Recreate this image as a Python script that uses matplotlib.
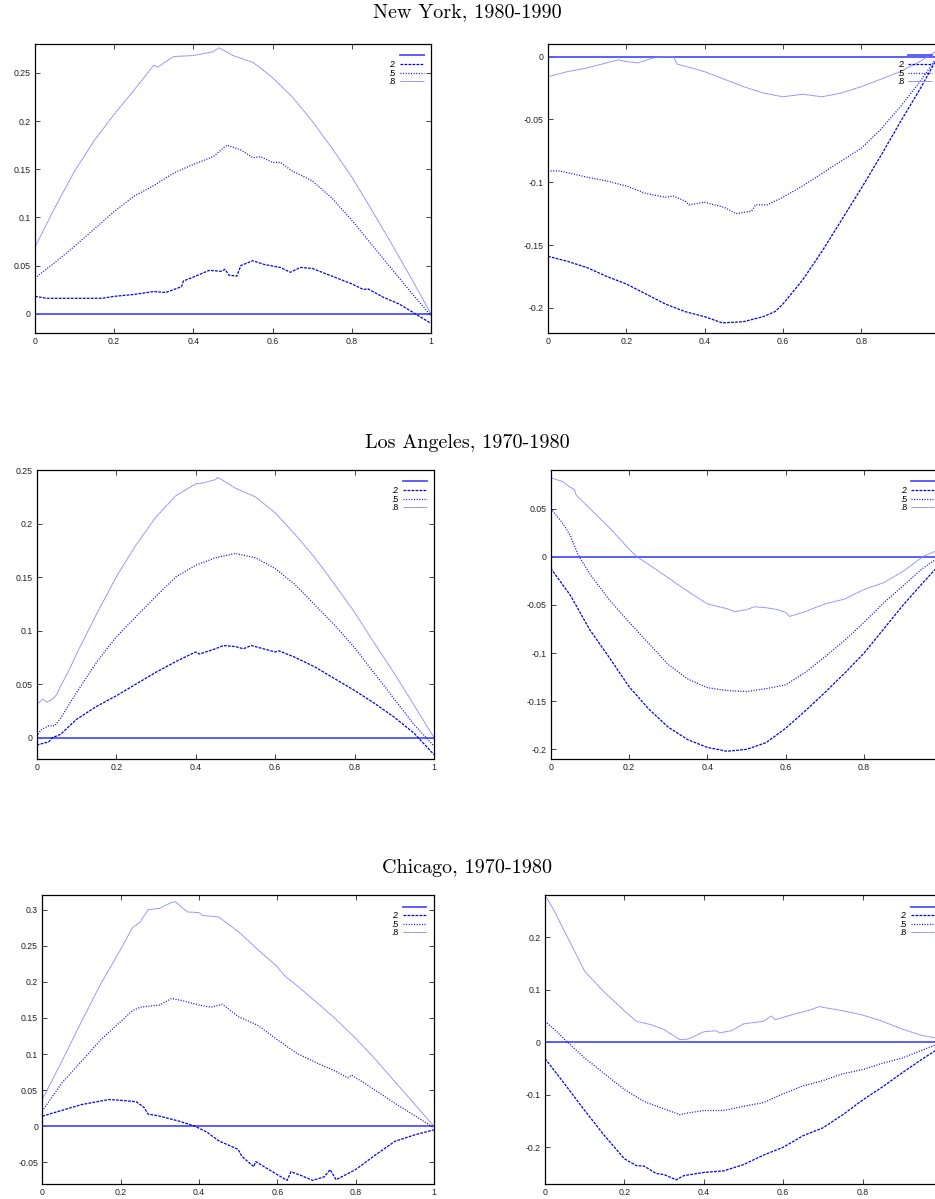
import matplotlib
matplotlib.use("Agg")
import matplotlib.pyplot as plt

# ---------------------------------------------------------------------------
# New York, 1980-1990
# ---------------------------------------------------------------------------
ny_l_x8 = [0, 0.05, 0.1, 0.15, 0.2, 0.25, 0.3, 0.31, 0.35, 0.4, 0.45, 0.465, 0.5,
           0.55, 0.57, 0.6, 0.65, 0.7, 0.75, 0.8, 0.85, 0.9, 0.95, 1.0]
ny_l_y8 = [0.069, 0.110, 0.148, 0.180, 0.207, 0.232, 0.258, 0.256, 0.267, 0.268, 0.272, 0.276, 0.268,
           0.261, 0.255, 0.245, 0.225, 0.200, 0.172, 0.142, 0.108, 0.073, 0.037, 0.0]
ny_l_x5 = [0, 0.05, 0.1, 0.15, 0.2, 0.25, 0.3, 0.35, 0.4, 0.45, 0.485, 0.52, 0.55, 0.57,
           0.6, 0.62, 0.65, 0.7, 0.75, 0.8, 0.85, 0.9, 0.95, 1.0]
ny_l_y5 = [0.037, 0.053, 0.070, 0.088, 0.106, 0.122, 0.133, 0.146, 0.155, 0.163, 0.175, 0.170, 0.162, 0.163,
           0.157, 0.157, 0.148, 0.138, 0.120, 0.097, 0.072, 0.047, 0.022, -0.002]
ny_l_x2 = [0, 0.03, 0.1, 0.17, 0.2, 0.25, 0.3, 0.33, 0.37, 0.375, 0.4, 0.44, 0.47, 0.48, 0.49,
           0.51, 0.52, 0.55, 0.58, 0.62, 0.645, 0.67, 0.7, 0.75, 0.8, 0.83, 0.84, 0.88, 0.92, 0.96, 1.0]
ny_l_y2 = [0.018, 0.016, 0.016, 0.016, 0.018, 0.020, 0.023, 0.022, 0.028, 0.034, 0.038, 0.045, 0.044, 0.046, 0.040,
           0.039, 0.050, 0.055, 0.051, 0.048, 0.043, 0.048, 0.047, 0.039, 0.031, 0.025, 0.026, 0.017, 0.010, 0.0, -0.010]

ny_r_x8 = [0, 0.05, 0.1, 0.15, 0.18, 0.2, 0.23, 0.27, 0.3, 0.32, 0.33, 0.4, 0.45, 0.5, 0.55,
           0.6, 0.65, 0.7, 0.75, 0.8, 0.85, 0.9, 0.95, 0.97, 1.0]
ny_r_y8 = [-0.016, -0.012, -0.009, -0.005, -0.0026, -0.004, -0.005, -0.001, 0.0, 0.0, -0.006, -0.012, -0.018, -0.024, -0.029,
           -0.032, -0.030, -0.032, -0.029, -0.024, -0.018, -0.012, -0.004, 0.0, 0.006]
ny_r_x5 = [0, 0.03, 0.1, 0.15, 0.2, 0.25, 0.3, 0.32, 0.35, 0.36, 0.4, 0.45, 0.48, 0.5, 0.52, 0.53,
           0.56, 0.6, 0.65, 0.7, 0.75, 0.8, 0.85, 0.9, 0.95, 1.0]
ny_r_y5 = [-0.091, -0.091, -0.096, -0.099, -0.103, -0.109, -0.112, -0.111, -0.115, -0.118, -0.116, -0.120, -0.125, -0.124, -0.123, -0.118,
           -0.118, -0.112, -0.103, -0.093, -0.083, -0.073, -0.058, -0.040, -0.020, 0.002]
ny_r_x2 = [0, 0.05, 0.1, 0.15, 0.2, 0.25, 0.3, 0.35, 0.4, 0.445, 0.5, 0.55, 0.58, 0.6,
           0.65, 0.7, 0.75, 0.8, 0.85, 0.9, 0.95, 1.0]
ny_r_y2 = [-0.159, -0.163, -0.168, -0.175, -0.181, -0.189, -0.197, -0.203, -0.207, -0.212, -0.211, -0.207, -0.203, -0.197,
           -0.178, -0.155, -0.130, -0.105, -0.079, -0.052, -0.026, 0.002]

# ---------------------------------------------------------------------------
# Los Angeles, 1970-1980
# ---------------------------------------------------------------------------
la_l_x8 = [0, 0.015, 0.025, 0.04, 0.05, 0.06, 0.07, 0.08, 0.1, 0.15, 0.2, 0.25, 0.3, 0.35, 0.4, 0.42,
           0.45, 0.455, 0.47, 0.5, 0.55, 0.6, 0.65, 0.7, 0.75, 0.8, 0.85, 0.9, 0.95, 1.0]
la_l_y8 = [0.031, 0.036, 0.033, 0.036, 0.040, 0.048, 0.055, 0.062, 0.078, 0.115, 0.150, 0.180, 0.206, 0.226, 0.237, 0.238,
           0.241, 0.243, 0.240, 0.233, 0.225, 0.210, 0.190, 0.168, 0.143, 0.117, 0.088, 0.060, 0.030, 0.0]
la_l_x5 = [0, 0.01, 0.02, 0.03, 0.045, 0.06, 0.08, 0.1, 0.15, 0.2, 0.25, 0.3, 0.35, 0.4, 0.45,
           0.5, 0.55, 0.6, 0.65, 0.7, 0.75, 0.8, 0.85, 0.9, 0.95, 1.0]
la_l_y5 = [0.001, 0.007, 0.009, 0.011, 0.011, 0.018, 0.030, 0.042, 0.070, 0.094, 0.113, 0.132, 0.150, 0.161, 0.168,
           0.172, 0.168, 0.158, 0.143, 0.124, 0.105, 0.084, 0.060, 0.036, 0.012, -0.008]
la_l_x2 = [0, 0.02, 0.03, 0.04, 0.06, 0.1, 0.15, 0.2, 0.25, 0.3, 0.35, 0.4, 0.41, 0.45, 0.47, 0.5,
           0.52, 0.54, 0.6, 0.61, 0.65, 0.7, 0.75, 0.8, 0.85, 0.9, 0.95, 1.0]
la_l_y2 = [-0.007, -0.005, -0.004, 0.0, 0.003, 0.017, 0.029, 0.039, 0.050, 0.061, 0.071, 0.080, 0.078, 0.083, 0.086, 0.085,
           0.083, 0.086, 0.080, 0.081, 0.075, 0.066, 0.055, 0.044, 0.032, 0.019, 0.004, -0.016]

la_r_x8 = [0, 0.03, 0.05, 0.06, 0.065, 0.1, 0.15, 0.2, 0.22, 0.25, 0.3, 0.35, 0.4, 0.45, 0.47, 0.5,
           0.52, 0.55, 0.58, 0.6, 0.61, 0.65, 0.7, 0.75, 0.8, 0.85, 0.9, 0.95, 1.0]
la_r_y8 = [0.082, 0.078, 0.072, 0.070, 0.064, 0.050, 0.030, 0.008, 0.0, -0.008, -0.022, -0.036, -0.049, -0.054, -0.057, -0.055,
           -0.052, -0.053, -0.055, -0.058, -0.062, -0.057, -0.049, -0.044, -0.034, -0.027, -0.015, 0.0, 0.009]
la_r_x5 = [0, 0.03, 0.05, 0.07, 0.1, 0.15, 0.2, 0.25, 0.3, 0.35, 0.4, 0.45, 0.5, 0.55,
           0.6, 0.65, 0.7, 0.75, 0.8, 0.85, 0.9, 0.95, 1.0]
la_r_y5 = [0.050, 0.035, 0.022, 0.002, -0.018, -0.045, -0.068, -0.090, -0.112, -0.127, -0.136, -0.139, -0.140, -0.137,
           -0.133, -0.120, -0.104, -0.087, -0.068, -0.048, -0.030, -0.012, 0.002]
la_r_x2 = [0, 0.05, 0.1, 0.15, 0.2, 0.25, 0.3, 0.35, 0.4, 0.45, 0.5, 0.55,
           0.6, 0.65, 0.7, 0.75, 0.8, 0.85, 0.9, 0.95, 1.0]
la_r_y2 = [-0.012, -0.040, -0.076, -0.105, -0.135, -0.158, -0.177, -0.190, -0.198, -0.202, -0.200, -0.193,
           -0.178, -0.160, -0.141, -0.121, -0.100, -0.075, -0.050, -0.027, -0.005]

# ---------------------------------------------------------------------------
# Chicago, 1970-1980
# ---------------------------------------------------------------------------
ch_l_x8 = [0, 0.05, 0.1, 0.15, 0.2, 0.23, 0.25, 0.27, 0.3, 0.31, 0.33, 0.34, 0.37, 0.4, 0.41,
           0.45, 0.5, 0.55, 0.6, 0.62, 0.65, 0.7, 0.75, 0.8, 0.85, 0.9, 0.95, 1.0]
ch_l_y8 = [0.037, 0.090, 0.145, 0.198, 0.245, 0.275, 0.283, 0.300, 0.302, 0.305, 0.310, 0.311, 0.297, 0.296, 0.292,
           0.290, 0.270, 0.245, 0.221, 0.208, 0.195, 0.172, 0.148, 0.122, 0.093, 0.062, 0.031, 0.0]
ch_l_x5 = [0, 0.05, 0.1, 0.15, 0.2, 0.23, 0.25, 0.3, 0.33, 0.35, 0.4, 0.43, 0.46, 0.5, 0.55,
           0.6, 0.65, 0.7, 0.75, 0.78, 0.79, 0.85, 0.9, 0.95, 1.0]
ch_l_y5 = [0.021, 0.060, 0.090, 0.120, 0.145, 0.160, 0.165, 0.168, 0.177, 0.175, 0.168, 0.165, 0.169, 0.152, 0.140,
           0.120, 0.101, 0.088, 0.076, 0.067, 0.071, 0.050, 0.032, 0.015, -0.002]
ch_l_x2 = [0, 0.05, 0.1, 0.17, 0.2, 0.24, 0.26, 0.27, 0.3, 0.35, 0.39, 0.42, 0.45, 0.5, 0.51,
           0.54, 0.545, 0.6, 0.625, 0.635, 0.66, 0.69, 0.72, 0.735, 0.75, 0.8, 0.85, 0.9, 0.95, 1.0]
ch_l_y2 = [0.014, 0.022, 0.030, 0.037, 0.036, 0.034, 0.026, 0.017, 0.014, 0.007, 0.0, -0.008, -0.020, -0.032, -0.042,
           -0.056, -0.049, -0.067, -0.075, -0.063, -0.068, -0.075, -0.070, -0.060, -0.074, -0.060, -0.040, -0.021, -0.012, -0.005]

ch_r_x8 = [0, 0.02, 0.05, 0.1, 0.15, 0.2, 0.23, 0.27, 0.3, 0.34, 0.36, 0.4, 0.43, 0.44, 0.47, 0.5,
           0.55, 0.57, 0.58, 0.62, 0.65, 0.67, 0.69, 0.75, 0.8, 0.85, 0.9, 0.95, 1.0]
ch_r_y8 = [0.280, 0.255, 0.210, 0.135, 0.095, 0.060, 0.040, 0.033, 0.024, 0.005, 0.006, 0.020, 0.022, 0.018, 0.022, 0.035,
           0.040, 0.050, 0.043, 0.052, 0.058, 0.062, 0.068, 0.060, 0.052, 0.040, 0.025, 0.013, 0.006]
ch_r_x5 = [0, 0.03, 0.05, 0.1, 0.15, 0.2, 0.25, 0.3, 0.34, 0.35, 0.4, 0.45, 0.5, 0.55,
           0.6, 0.65, 0.7, 0.75, 0.8, 0.85, 0.9, 0.95, 1.0]
ch_r_y5 = [0.040, 0.020, 0.005, -0.030, -0.060, -0.090, -0.113, -0.127, -0.138, -0.136, -0.130, -0.130, -0.122, -0.115,
           -0.098, -0.083, -0.073, -0.060, -0.052, -0.040, -0.030, -0.015, 0.0]
ch_r_x2 = [0, 0.05, 0.1, 0.15, 0.2, 0.23, 0.25, 0.28, 0.3, 0.33, 0.35, 0.4, 0.45, 0.5, 0.55,
           0.6, 0.65, 0.7, 0.75, 0.8, 0.85, 0.9, 0.95, 1.0]
ch_r_y2 = [-0.031, -0.080, -0.130, -0.178, -0.222, -0.235, -0.236, -0.250, -0.252, -0.262, -0.254, -0.248, -0.245, -0.233, -0.215,
           -0.200, -0.178, -0.163, -0.138, -0.110, -0.085, -0.058, -0.032, -0.008]

titles = ["New York, 1980-1990", "Los Angeles, 1970-1980", "Chicago, 1970-1980"]
quantile_labels = [".2", ".5", ".8"]
x_ticks_left = [0, 0.2, 0.4, 0.6, 0.8, 1.0]
x_ticks_right = [0, 0.2, 0.4, 0.6, 0.8]

# axes boxes in figure fractions: [left, bottom, width, height]
# the right-hand column runs past the page edge, as in the original print
boxes = [
    ([0.0374, 0.7223, 0.4235, 0.2410], [0.5861, 0.7223, 0.4187, 0.2410]),
    ([0.0393, 0.3670, 0.4249, 0.2410], [0.5890, 0.3670, 0.4190, 0.2410]),
    ([0.0452, 0.0125, 0.4189, 0.2408], [0.5829, 0.0125, 0.4246, 0.2408]),
]
ylims = [
    ((-0.02, 0.28), (-0.22, 0.01)),
    ((-0.02, 0.25), (-0.21, 0.09)),
    ((-0.08, 0.32), (-0.27, 0.28)),
]
yticks = [
    ([0, 0.05, 0.1, 0.15, 0.2, 0.25], [-0.2, -0.15, -0.1, -0.05, 0]),
    ([0, 0.05, 0.1, 0.15, 0.2, 0.25], [-0.2, -0.15, -0.1, -0.05, 0, 0.05]),
    ([-0.05, 0, 0.05, 0.1, 0.15, 0.2, 0.25, 0.3], [-0.2, -0.1, 0, 0.1, 0.2]),
]
curves = [
    (((ny_l_x2, ny_l_y2), (ny_l_x5, ny_l_y5), (ny_l_x8, ny_l_y8)),
     ((ny_r_x2, ny_r_y2), (ny_r_x5, ny_r_y5), (ny_r_x8, ny_r_y8))),
    (((la_l_x2, la_l_y2), (la_l_x5, la_l_y5), (la_l_x8, la_l_y8)),
     ((la_r_x2, la_r_y2), (la_r_x5, la_r_y5), (la_r_x8, la_r_y8))),
    (((ch_l_x2, ch_l_y2), (ch_l_x5, ch_l_y5), (ch_l_x8, ch_l_y8)),
     ((ch_r_x2, ch_r_y2), (ch_r_x5, ch_r_y5), (ch_r_x8, ch_r_y8))),
]
title_y = [12, 443, 868]

styles = [
    dict(color="#0000ee", lw=0.9, ls=(0, (2.2, 1.0))),
    dict(color="#0000ff", lw=0.9, ls=(0, (0.8, 1.3))),
    dict(color="#8080ff", lw=0.7, ls=(0, (1.6, 0.4))),
]
zero_style = dict(color="#5050ff", lw=1.3, ls="-")

plt.rcParams["font.family"] = ["Liberation Sans", "DejaVu Sans"]
fig = plt.figure(figsize=(9.35, 11.99), dpi=100)


def fmt(v):
    return "%g" % v


for row in range(3):
    fig.text(0.4995, 1 - title_y[row] / 1199, titles[row], ha="center", va="center",
             fontsize=14.5, family=["cmr10", "DejaVu Serif"])
    for col in range(2):
        ax = fig.add_axes(boxes[row][col])
        zero, = ax.plot([0, 1], [0, 0], **zero_style)
        handles = [zero]
        for (xs, ys), st in zip(curves[row][col], styles):
            ln, = ax.plot(xs, ys, **st)
            handles.append(ln)
        xt = x_ticks_left if col == 0 else x_ticks_right
        ax.set_xlim(0, 1)
        ax.set_ylim(*ylims[row][col])
        ax.set_xticks(xt)
        ax.set_xticklabels([fmt(v) for v in xt])
        ax.set_yticks(yticks[row][col])
        ax.set_yticklabels([fmt(v) for v in yticks[row][col]])
        ax.tick_params(direction="in", top=True, right=(col == 0), length=3.5, width=0.6,
                       labelsize=6.3, pad=3, colors="#222222")
        for sp in ax.spines.values():
            sp.set_linewidth(0.9)
        ax.legend(handles, [""] + quantile_labels, loc="upper right", frameon=False,
                  markerfirst=False, fontsize=6.3, handlelength=2.7, handletextpad=0.5,
                  labelspacing=-0.05, borderaxespad=0.5, borderpad=0.35)

fig.savefig("out.png", dpi=100)
